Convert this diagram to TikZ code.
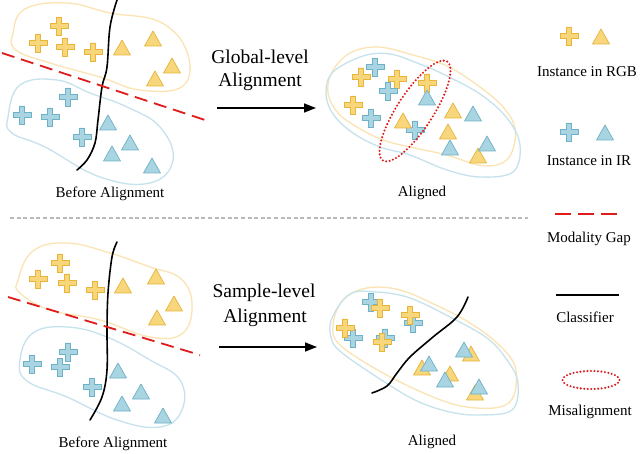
\documentclass[tikz,border=0pt]{standalone}
\usepackage{fontspec}
\setmainfont{Liberation Serif}
\usetikzlibrary{arrows.meta,shapes.geometric}
\definecolor{yfill}{HTML}{F7D67C}
\definecolor{yline}{HTML}{E6B53A}
\definecolor{bfill}{HTML}{A9D4E1}
\definecolor{bline}{HTML}{6FB1C7}
\definecolor{yblob}{HTML}{FBE3B4}
\definecolor{bblob}{HTML}{C6E2EC}
\definecolor{gapred}{HTML}{E01B1B}
\def\plusP{(-2.6,-9)--(2.6,-9)--(2.6,-2.6)--(9,-2.6)--(9,2.6)--(2.6,2.6)--(2.6,9)--(-2.6,9)--(-2.6,2.6)--(-9,2.6)--(-9,-2.6)--(-2.6,-2.6)--cycle}
\def\triP{(0,-9)--(8.5,6)--(-8.5,6)--cycle}
\tikzset{
  ycross/.pic={\filldraw[fill=yfill,draw=yline,line width=0.7pt] \plusP;},
  bcross/.pic={\filldraw[fill=bfill,draw=bline,line width=0.7pt] \plusP;},
  ytri/.pic={\filldraw[fill=yfill,draw=yline,line width=0.7pt,line join=round] \triP;},
  btri/.pic={\filldraw[fill=bfill,draw=bline,line width=0.7pt,line join=round] \triP;},
  yb/.style={draw=yblob,line width=1.3pt},
  bb/.style={draw=bblob,line width=1.3pt},
  gap/.style={draw=gapred,line width=1.8pt,dash pattern=on 13pt off 7pt},
  clf/.style={draw=black,line width=1.6pt,line cap=round},
  mis/.style={draw=gapred,line width=2.3pt,line cap=round,dash pattern=on 0pt off 3.5pt},
  arr/.style={draw=black,line width=1.6pt,-{Triangle[length=12pt,width=9pt]}},
  lbl/.style={font=\fontsize{15}{17}\selectfont,inner sep=0pt},
  hd/.style={font=\fontsize{19.5}{21}\selectfont,inner sep=0pt},
}
\begin{document}
\begin{tikzpicture}[x=1pt,y=-1pt]
\useasboundingbox (0,0) rectangle (640,454);
\fill[white] (0,0) rectangle (640,454);

% ---------- top-left: before alignment ----------
\draw[yb] plot[smooth cycle,tension=0.7] coordinates {(13,33) (25,9) (67,3) (110,13) (160,22) (187,52) (183,86) (140,90) (100,77) (50,63) (16,50)};
\draw[bb] plot[smooth cycle,tension=0.7] coordinates {(8,117) (20,85) (57,80) (90,93) (127,107) (160,127) (173,160) (150,183) (100,177) (45,147) (12,133)};
\foreach \p in {(59,26),(38,43),(65,47),(93,52)} \pic at \p {ycross};
\foreach \p in {(122,49),(153,40),(172,67),(155,80)} \pic at \p {ytri};
\foreach \p in {(68,97),(22,115),(50,117),(82,137)} \pic at \p {bcross};
\foreach \p in {(108,124),(130,144),(112,155),(152,167)} \pic at \p {btri};
\draw[clf] plot[smooth,tension=0.6] coordinates {(117,0) (110,27) (107,67) (102,87) (98,120) (95,143) (87,160) (77,170)};
\coordinate (g1s) at (2,53);
\coordinate (g1e) at (205,120);
\draw[gap] (g1s) -- (g1e);
\node[lbl] (tba) at (110,194) {Before Alignment};

% ---------- arrow top ----------
\node[hd] (h1a) at (260,57) {Global-level};
\node[hd] (h1b) at (260,82) {Alignment};
\coordinate (a1s) at (217,108);
\coordinate (a1e) at (316,108);
\draw[arr] (a1s) -- (a1e);

% ---------- top aligned ----------
\draw[yb] plot[smooth cycle,tension=0.6] coordinates {(332,72) (350,53) (378,47) (413,55) (447,66) (480,87) (503,107) (515,128) (512,152) (500,164) (478,165) (447,155) (410,147) (383,140) (357,127) (338,113) (328,93)};
\draw[bb] plot[smooth cycle,tension=0.6] coordinates {(333,72) (363,56) (390,54) (417,63) (443,74) (480,94) (507,118) (520,145) (513,172) (480,177) (447,170) (410,155) (380,147) (353,133) (333,114) (326,93)};
\foreach \p in {(361,77),(397,79),(427,83),(353,105)} \pic at \p {ycross};
\foreach \p in {(375,67),(388,91),(371,118),(415,130)} \pic at \p {bcross};
\foreach \p in {(403,122),(453,112),(448,133),(478,157)} \pic at \p {ytri};
\foreach \p in {(427,99),(473,115),(450,149),(487,145)} \pic at \p {btri};
\node[mis,draw,ellipse,minimum width=118pt,minimum height=36pt,rotate=57,inner sep=0pt] (misal) at (415,111) {};
\node[lbl] (tal) at (422,193) {Aligned};

% ---------- separator ----------
\coordinate (s1) at (10,218);
\coordinate (s2) at (528,218);
\draw[gray!55,line width=1.6pt,dash pattern=on 4pt off 2.6pt] (s1) -- (s2);

% ---------- bottom-left: before alignment ----------
\draw[yb] plot[smooth cycle,tension=0.7] coordinates {(18,280) (33,251) (67,243) (110,253) (150,267) (180,278) (192,303) (183,333) (150,337) (100,320) (50,310) (20,293)};
\draw[bb] plot[smooth cycle,tension=0.7] coordinates {(20,360) (33,333) (67,327) (107,337) (150,360) (180,380) (182,410) (160,427) (117,420) (67,397) (27,381)};
\foreach \p in {(60,263),(38,279),(67,283),(95,290)} \pic at \p {ycross};
\foreach \p in {(123,287),(156,278),(174,305),(157,319)} \pic at \p {ytri};
\foreach \p in {(68,352),(32,364),(60,367),(92,387)} \pic at \p {bcross};
\foreach \p in {(118,372),(141,393),(122,405),(163,417)} \pic at \p {btri};
\draw[clf] plot[smooth,tension=0.6] coordinates {(117,242) (112,257) (108,293) (107,330) (107,370) (102,397) (90,420)};
\coordinate (g2s) at (8,297);
\coordinate (g2e) at (200,355);
\draw[gap] (g2s) -- (g2e);
\node[lbl] (tbb) at (113,444) {Before Alignment};

% ---------- arrow bottom ----------
\node[hd] (h2a) at (264,293) {Sample-level};
\node[hd] (h2b) at (265,318) {Alignment};
\coordinate (a2s) at (219,347);
\coordinate (a2e) at (317,347);
\draw[arr] (a2s) -- (a2e);

% ---------- bottom aligned ----------
\draw[yb] plot[smooth cycle,tension=0.6] coordinates {(333,325) (343,300) (367,288) (400,290) (440,307) (470,323) (497,343) (515,366) (514,395) (500,407) (467,407) (433,397) (383,373) (340,345)};
\draw[bb] plot[smooth cycle,tension=0.6] coordinates {(332,318) (350,294) (377,292) (410,298) (450,317) (487,338) (507,360) (518,383) (512,410) (480,415) (450,412) (417,401) (383,381) (341,352) (331,337)};
\foreach \p in {(371,302),(413,323),(353,338),(385,338)} \pic at \p {bcross};
\foreach \p in {(380,308),(410,315),(345,328),(382,342)} \pic at \p {ycross};
\foreach \p in {(471,355),(422,369),(450,375),(475,394)} \pic at \p {ytri};
\foreach \p in {(464,351),(429,365),(445,381),(479,388)} \pic at \p {btri};
\draw[clf] plot[smooth,tension=0.6] coordinates {(468,297) (457,317) (433,337) (410,357) (397,373) (387,386) (372,393)};
\node[lbl] (tal2) at (432,442) {Aligned};

% ---------- legend ----------
\pic at (569,36) {ycross};
\pic at (601,38) {ytri};
\node[lbl] (lrgb) at (587,72) {Instance in RGB};
\pic at (569,132) {bcross};
\pic at (605,134) {btri};
\node[lbl] (lir) at (589,161) {Instance in IR};
\coordinate (lg1) at (555,214);
\coordinate (lg2) at (618,214);
\draw[draw=gapred,line width=1.8pt,dash pattern=on 16pt off 7pt] (lg1) -- (lg2);
\node[lbl] (lgap) at (589,239) {Modality Gap};
\coordinate (lc1) at (556,295);
\coordinate (lc2) at (619,295);
\draw[clf,line cap=butt] (lc1) -- (lc2);
\node[lbl] (lclf) at (585,317) {Classifier};
\node[mis,draw,ellipse,minimum width=57pt,minimum height=18pt,inner sep=0pt] (lmisell) at (591,380) {};
\node[lbl] (lmis) at (590,412) {Misalignment};
\end{tikzpicture}
\end{document}
